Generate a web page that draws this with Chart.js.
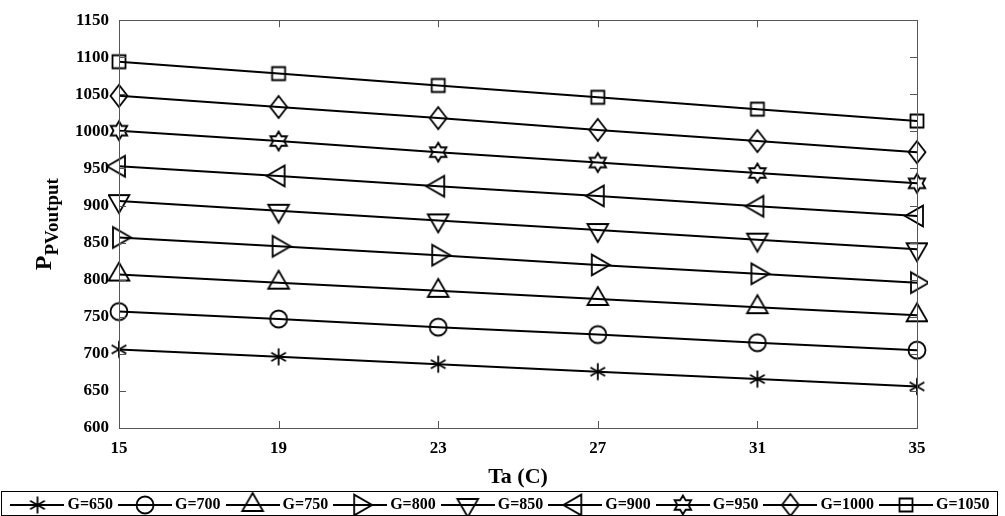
<!DOCTYPE html>
<html>
<head>
<meta charset="utf-8">
<script src="https://cdn.jsdelivr.net/npm/chart.js@4.4.0/dist/chart.umd.min.js"></script>
<style>
  html, body { margin: 0; padding: 0; background: #fff; }
</style>
</head>
<body>
<canvas id="pvChart" width="1005" height="516"></canvas>
<script>
// Ambient temperature (x axis)
var temps = ['15', '19', '23', '27', '31', '35'];

// Irradiance levels, one line each
var seriesNames = ['G=650', 'G=700', 'G=750', 'G=800', 'G=850', 'G=900', 'G=950', 'G=1000', 'G=1050'];

// PV output
var g650  = [706, 696, 686, 676, 666, 656];
var g700  = [757, 747, 736, 726, 715, 705];
var g750  = [807, 796, 785, 774, 763, 752];
var g800  = [857, 845, 833, 820, 808, 796];
var g850  = [906, 893, 880, 867, 854, 841];
var g900  = [953, 940, 926, 913, 899, 886];
var g950  = [1001, 987, 972, 958, 944, 930];
var g1000 = [1048, 1033, 1018, 1002, 987, 972];
var g1050 = [1094, 1078, 1062, 1046, 1030, 1014];

// y axis range
var yMin = 600, yMax = 1150, yStep = 50;

var seriesValues = [g650, g700, g750, g800, g850, g900, g950, g1000, g1050];
var markerTypes = ['asterisk', 'circle', 'triUp', 'triRight', 'triDown', 'triLeft', 'hexagram', 'diamond', 'square'];

var fontFam = "'Times New Roman', 'Liberation Serif', serif";

// draw a hollow MATLAB-like marker into a small canvas (optionally with a line through it for the legend)
function makeIcon(type, lineLen) {
    var size = 28;
    var w = lineLen || size, h = size;
    var c = document.createElement('canvas');
    c.width = w; c.height = h;
    var g = c.getContext('2d');
    var cx = w / 2, cy = h / 2;
    g.strokeStyle = '#000';
    if (lineLen) {
        g.lineWidth = 1.8;
        g.beginPath();
        g.moveTo(0, cy); g.lineTo(w, cy);
        g.stroke();
    }
    g.lineWidth = 1.8;
    g.beginPath();
    var r, i, a;
    if (type === 'asterisk') {
        r = 8.5;
        g.moveTo(cx, cy - r); g.lineTo(cx, cy + r);
        [30, 150].forEach(function (d) {
            var t = d * Math.PI / 180;
            g.moveTo(cx + r * Math.cos(t), cy + r * Math.sin(t));
            g.lineTo(cx - r * Math.cos(t), cy - r * Math.sin(t));
        });
    } else if (type === 'circle') {
        g.arc(cx, cy, 8.5, 0, Math.PI * 2);
    } else if (type.indexOf('tri') === 0) {
        r = 12;
        var tip = {triUp: -90, triDown: 90, triRight: 0, triLeft: 180}[type];
        for (i = 0; i < 3; i++) {
            a = (tip + i * 120) * Math.PI / 180;
            if (i === 0) g.moveTo(cx + r * Math.cos(a), cy + r * Math.sin(a));
            else g.lineTo(cx + r * Math.cos(a), cy + r * Math.sin(a));
        }
        g.closePath();
    } else if (type === 'hexagram') {
        r = 9.5;
        for (i = 0; i < 12; i++) {
            a = (-90 + i * 30) * Math.PI / 180;
            var rr = i % 2 === 0 ? r : r / Math.sqrt(3);
            if (i === 0) g.moveTo(cx + rr * Math.cos(a), cy + rr * Math.sin(a));
            else g.lineTo(cx + rr * Math.cos(a), cy + rr * Math.sin(a));
        }
        g.closePath();
    } else if (type === 'diamond') {
        g.moveTo(cx, cy - 11); g.lineTo(cx + 8.5, cy); g.lineTo(cx, cy + 11); g.lineTo(cx - 8.5, cy);
        g.closePath();
    } else if (type === 'square') {
        g.rect(cx - 6.5, cy - 6.5, 13, 13);
    }
    g.stroke();
    return c;
}

var markerIcons = markerTypes.map(function (t) { return makeIcon(t); });
var legendIcons = markerTypes.map(function (t) { return makeIcon(t, 54); });

var datasets = seriesValues.map(function (vals, i) {
    return {
        label: seriesNames[i],
        data: vals,
        borderColor: '#000',
        borderWidth: 2,
        pointStyle: markerIcons[i],
        pointRadius: 9,
        fill: false,
        tension: 0
    };
});

// box frame with inward ticks, legend frame, and the subscripted y title
var framePlugin = {
    id: 'frame',
    afterDraw: function (chart) {
        var ctx = chart.ctx, a = chart.chartArea;
        var xs = chart.scales.x, ys = chart.scales.y;
        ctx.save();
        ctx.strokeStyle = '#555';
        ctx.lineWidth = 1;
        ctx.strokeRect(Math.round(a.left) + 0.5, Math.round(a.top) + 0.5, Math.round(a.right - a.left), Math.round(a.bottom - a.top));
        ctx.beginPath();
        xs.ticks.forEach(function (t, i) {
            var px = Math.round(xs.getPixelForTick(i)) + 0.5;
            ctx.moveTo(px, a.bottom); ctx.lineTo(px, a.bottom - 7);
            ctx.moveTo(px, a.top); ctx.lineTo(px, a.top + 7);
        });
        ys.ticks.forEach(function (t) {
            var py = Math.round(ys.getPixelForValue(t.value)) + 0.5;
            ctx.moveTo(a.left, py); ctx.lineTo(a.left + 7, py);
            ctx.moveTo(a.right, py); ctx.lineTo(a.right - 7, py);
        });
        ctx.stroke();

        // legend border
        ctx.strokeStyle = '#000';
        ctx.strokeRect(1.5, 491.5, 996, 24);

        // y title: P with subscript PVoutput
        ctx.fillStyle = '#000';
        ctx.translate(51, (a.top + a.bottom) / 2);
        ctx.rotate(-Math.PI / 2);
        ctx.textAlign = 'left';
        ctx.textBaseline = 'alphabetic';
        ctx.font = 'bold 24px ' + fontFam;
        var w1 = ctx.measureText('P').width;
        ctx.font = 'bold 19px ' + fontFam;
        var w2 = ctx.measureText('PVoutput').width;
        var x0 = -(w1 + w2) / 2;
        ctx.font = 'bold 24px ' + fontFam;
        ctx.fillText('P', x0, 0);
        ctx.font = 'bold 19px ' + fontFam;
        ctx.fillText('PVoutput', x0 + w1, 7);
        ctx.restore();
    }
};

Chart.defaults.font.family = fontFam;
Chart.defaults.color = '#000';

var ctxPV = document.getElementById('pvChart').getContext('2d');
var pvChart = new Chart(ctxPV, {
    type: 'line',
    data: {
        labels: temps,
        datasets: datasets
    },
    options: {
        responsive: false,
        animation: false,
        events: [],
        layout: {
            padding: { top: 19, right: 0, bottom: -7, left: 0 }
        },
        scales: {
            x: {
                type: 'category',
                grid: { display: false, drawTicks: false },
                border: { display: false },
                ticks: { color: '#000', font: { size: 17, weight: 'bold' }, padding: 10, maxRotation: 0, autoSkip: false },
                title: { display: true, text: 'Ta (C)', color: '#000', font: { size: 22, weight: 'bold' }, padding: { top: 0, bottom: -4 } },
                afterFit: function (scale) {
                    scale.height = 59;
                    scale.paddingRight = 88;
                }
            },
            y: {
                min: yMin,
                max: yMax,
                grid: { display: false, drawTicks: false },
                border: { display: false },
                ticks: {
                    stepSize: yStep,
                    color: '#000',
                    font: { size: 17, weight: 'bold' },
                    padding: 10,
                    callback: function (v) { return String(v); }
                },
                afterFit: function (scale) {
                    scale.width = 119;
                }
            }
        },
        plugins: {
            tooltip: { enabled: false },
            legend: {
                position: 'bottom',
                labels: {
                    usePointStyle: true,
                    pointStyleWidth: 44,
                    padding: 10,
                    color: '#000',
                    font: { size: 16, weight: 'bold' },
                    generateLabels: function (chart) {
                        return chart.data.datasets.map(function (ds, i) {
                            return {
                                text: ds.label,
                                pointStyle: legendIcons[i],
                                fillStyle: '#000',
                                strokeStyle: '#000',
                                lineWidth: 0,
                                fontColor: '#000',
                                hidden: false,
                                datasetIndex: i
                            };
                        });
                    }
                }
            }
        }
    },
    plugins: [framePlugin]
});
</script>
</body>
</html>
